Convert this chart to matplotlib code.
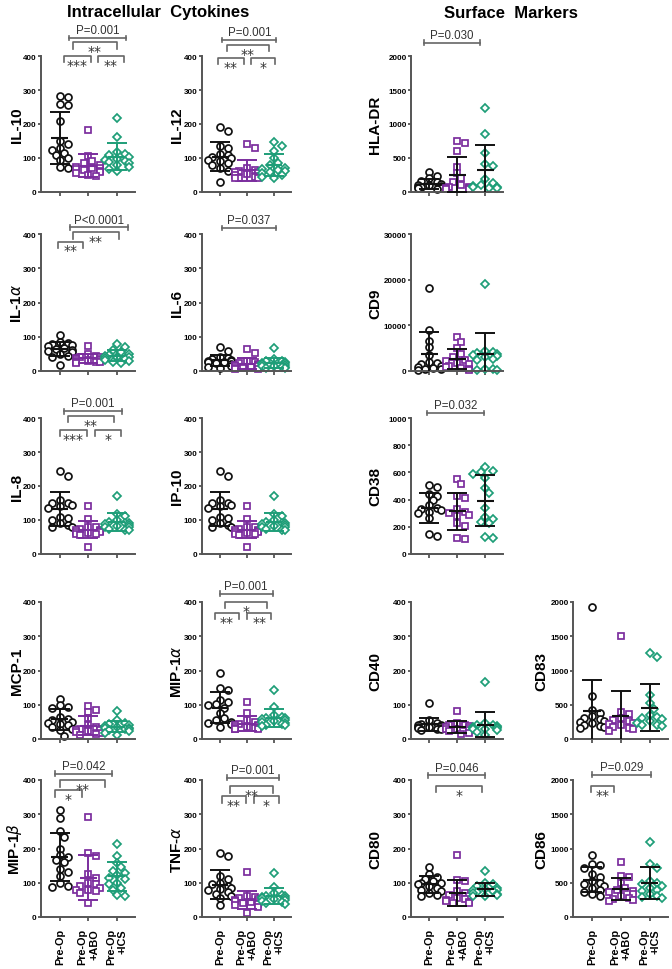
import numpy as np
import matplotlib
matplotlib.use("Agg")
import matplotlib.pyplot as plt
from matplotlib.transforms import blended_transform_factory

plt.rcParams['font.family'] = ['Liberation Sans', 'DejaVu Sans']
plt.rcParams['mathtext.fontset'] = 'dejavusans'

# ---------------- data ----------------
groups = ["Pre-Op", "Pre-Op\n+ABO", "Pre-Op\n+ICS"]
colors = ["#111111", "#7B2D9E", "#1E9E78"]
markers = ["o", "s", "D"]

il10 = [[282, 278, 260, 255, 210, 150, 140, 130, 125, 115, 110, 100, 95, 75, 70],
        [182, 105, 90, 85, 80, 75, 72, 70, 68, 65, 62, 58, 55, 50, 48],
        [217, 162, 118, 112, 108, 102, 98, 95, 92, 88, 85, 80, 75, 68, 62]]
il12 = [[190, 180, 135, 128, 112, 108, 103, 100, 95, 90, 85, 78, 70, 62, 28],
        [140, 128, 70, 65, 62, 60, 58, 55, 52, 50, 48, 45, 42, 40, 40],
        [148, 135, 120, 100, 85, 78, 72, 68, 65, 62, 58, 55, 50, 45, 42]]
il1a = [[105, 85, 82, 78, 75, 72, 68, 65, 60, 58, 55, 50, 45, 40, 18],
        [72, 50, 45, 42, 40, 38, 36, 35, 33, 30, 28, 27, 25, 25, 24],
        [78, 70, 62, 55, 50, 48, 45, 42, 40, 38, 35, 32, 30, 25, 22]]
il6 = [[70, 58, 42, 38, 35, 32, 30, 28, 27, 25, 22, 20, 15, 12, 8],
       [63, 52, 28, 25, 22, 20, 18, 17, 15, 14, 12, 10, 8, 6, 5],
       [66, 35, 30, 28, 25, 23, 22, 20, 18, 16, 15, 13, 12, 10, 8]]
il8 = [[243, 230, 160, 150, 150, 145, 140, 135, 110, 105, 100, 90, 85, 80, 78],
       [140, 103, 80, 78, 75, 72, 70, 68, 66, 65, 62, 60, 58, 55, 20],
       [172, 118, 112, 100, 95, 92, 90, 88, 85, 82, 80, 78, 75, 72, 70]]
ip10 = [[243, 230, 160, 150, 150, 145, 140, 135, 110, 105, 100, 90, 85, 80, 78],
        [140, 103, 80, 78, 75, 72, 70, 68, 66, 65, 62, 60, 58, 55, 20],
        [172, 118, 112, 100, 95, 92, 90, 88, 85, 82, 80, 78, 75, 72, 70]]
mcp1 = [[118, 98, 92, 90, 65, 58, 55, 50, 48, 45, 40, 35, 30, 25, 8],
        [97, 85, 78, 60, 40, 35, 30, 28, 26, 25, 22, 20, 18, 15, 12],
        [81, 55, 48, 45, 40, 38, 35, 33, 32, 30, 28, 25, 22, 18, 12]]
mip1a = [[193, 150, 142, 115, 108, 102, 98, 90, 75, 60, 55, 50, 48, 45, 35],
         [108, 75, 55, 50, 45, 42, 40, 38, 36, 35, 33, 32, 30, 30, 28],
         [143, 92, 70, 65, 62, 60, 58, 55, 52, 50, 48, 45, 42, 40, 38]]
mip1b = [[312, 288, 250, 235, 200, 180, 175, 165, 160, 140, 130, 120, 100, 90, 88],
         [292, 188, 178, 125, 115, 100, 95, 90, 85, 80, 78, 75, 70, 42],
         [212, 178, 158, 145, 135, 128, 122, 115, 110, 100, 95, 85, 80, 65, 60]]
tnfa = [[188, 178, 120, 110, 100, 95, 90, 85, 82, 78, 72, 68, 62, 55, 35],
        [130, 62, 58, 55, 52, 50, 48, 46, 45, 42, 40, 38, 35, 30, 12],
        [128, 88, 70, 65, 62, 60, 58, 56, 55, 52, 50, 48, 45, 42, 38]]
hladr = [[300, 240, 200, 160, 140, 120, 110, 100, 90, 80, 75, 70, 60, 55, 50],
         [755, 720, 600, 370, 280, 200, 150, 100, 80, 70, 60, 55, 50, 45],
         [1235, 855, 570, 405, 380, 185, 135, 100, 90, 80, 70, 60, 55]]
cd9 = [[18100, 9000, 6600, 5200, 3400, 2000, 1800, 1500, 1200, 900, 700, 500, 400, 300],
       [7400, 6300, 5000, 3800, 3000, 2500, 2200, 1800, 1500, 1200, 900, 600, 400, 300],
       [19100, 4400, 4100, 3900, 3700, 3500, 3200, 3000, 2600, 2300, 500, 400, 300, 250]]
cd38 = [[505, 490, 438, 430, 395, 360, 340, 330, 320, 310, 300, 265, 150, 135],
        [550, 515, 430, 410, 330, 310, 300, 290, 280, 230, 205, 120, 112],
        [637, 612, 600, 585, 560, 485, 450, 340, 270, 260, 235, 225, 125, 118]]
cd40 = [[104, 55, 48, 45, 42, 40, 38, 36, 35, 33, 32, 30, 28, 27],
        [82, 48, 42, 40, 38, 35, 32, 30, 28, 25, 22, 18, 15],
        [166, 48, 42, 40, 38, 36, 35, 33, 32, 30, 28, 25, 20, 12]]
cd83 = [[1920, 625, 430, 380, 330, 300, 290, 270, 250, 230, 210, 190, 170, 160],
        [1500, 390, 360, 300, 280, 260, 240, 220, 200, 180, 160, 140, 120],
        [1250, 1195, 640, 530, 445, 350, 320, 300, 290, 260, 240, 210, 200, 190]]
cd80 = [[146, 125, 118, 112, 105, 100, 98, 95, 90, 85, 80, 75, 70, 65, 62],
        [180, 108, 105, 75, 70, 65, 60, 55, 52, 50, 48, 45, 42, 40],
        [135, 100, 95, 90, 85, 82, 80, 78, 75, 72, 70, 68, 65, 62, 60]]
cd86 = [[905, 780, 760, 720, 630, 590, 520, 500, 480, 450, 420, 400, 360, 330, 300],
        [810, 600, 590, 500, 420, 400, 380, 360, 340, 300, 280, 260, 250, 240],
        [1100, 780, 720, 520, 500, 480, 450, 420, 400, 380, 330, 310, 290, 280]]

# ---------------- layout ----------------
W, H = 672, 970
rows_px = [(57, 193), (235, 372), (419, 555), (603, 740), (781, 918)]
cols_px = [(41, 135), (202, 291), (411, 503), (573, 668)]
label_x_px = [24, 184, 382, 548]   # right (descent) edge of the rotated y labels

# annotation brackets: (x1, x2, y in axes fraction, text, kind)
panels = [
    ("IL-10", il10, 400, 100, 0, 0, False,
     [(0.32, 2.32, 1.132, "P=0.001", "p"), (0.45, 2.0, 1.100, "**", "s"),
      (0.14, 1.08, 1.0, "***", "s"), (1.33, 2.25, 1.0, "**", "s")]),
    ("IL-12", il12, 400, 100, 0, 1, False,
     [(0.1, 2.1, 1.118, "P=0.001", "p"), (0.25, 1.82, 1.081, "**", "s"),
      (-0.07, 0.88, 0.985, "**", "s"), (1.16, 2.04, 0.985, "*", "s")]),
    ("IL-1$\\alpha$", il1a, 400, 100, 1, 0, False,
     [(0.35, 2.38, 1.049, "P<0.0001", "p"), (0.46, 2.07, 1.012, "**", "s"),
      (-0.07, 0.82, 0.944, "**", "s")]),
    ("IL-6", il6, 400, 100, 1, 1, False,
     [(0.07, 2.07, 1.044, "P=0.037", "p")]),
    ("IL-8", il8, 400, 100, 2, 0, False,
     [(0.14, 2.18, 1.051, "P=0.001", "p"), (0.28, 1.89, 1.015, "**", "s"),
      (0.0, 0.95, 0.91, "***", "s"), (1.23, 2.14, 0.91, "*", "s")]),
    ("IP-10", ip10, 400, 100, 2, 1, False, []),
    ("MCP-1", mcp1, 400, 100, 3, 0, False, []),
    ("MIP-1$\\alpha$", mip1a, 400, 100, 3, 1, False,
     [(0.0, 1.96, 1.061, "P=0.001", "p"), (0.18, 1.75, 1.0, "*", "s"),
      (-0.18, 0.7, 0.919, "**", "s"), (1.02, 1.9, 0.919, "**", "s")]),
    ("MIP-1$\\beta$", mip1b, 400, 100, 4, 0, False,
     [(-0.18, 1.83, 1.046, "P=0.042", "p"), (0.0, 1.6, 0.997, "**", "s"),
      (-0.18, 0.77, 0.924, "*", "s")]),
    ("TNF-$\\alpha$", tnfa, 400, 100, 4, 1, False,
     [(0.25, 2.2, 1.017, "P=0.001", "p"), (0.39, 1.96, 0.953, "**", "s"),
      (0.07, 0.98, 0.88, "**", "s"), (1.26, 2.18, 0.88, "*", "s")]),
    ("HLA-DR", hladr, 2000, 500, 0, 2, True,
     [(-0.21, 1.82, 1.096, "P=0.030", "p")]),
    ("CD9", cd9, 30000, 10000, 1, 2, True, []),
    ("CD38", cd38, 1000, 200, 2, 2, True,
     [(-0.1, 1.95, 1.037, "P=0.032", "p")]),
    ("CD40", cd40, 400, 100, 3, 2, True, []),
    ("CD83", cd83, 2000, 500, 3, 3, True, []),
    ("CD80", cd80, 400, 100, 4, 2, True,
     [(-0.04, 2.0, 1.034, "P=0.046", "p"), (0.25, 1.88, 0.956, "*", "s")]),
    ("CD86", cd86, 2000, 500, 4, 3, True,
     [(0.0, 2.05, 1.04, "P=0.029", "p"), (-0.04, 0.78, 0.956, "**", "s")]),
]

XL = (-0.66, 2.64)


def swarm(vals, ymax, px_x, px_y, diam=6.6):
    vals = np.asarray(vals, float)
    order = np.argsort(vals)[::-1]
    placed = []
    offs = np.zeros(len(vals))
    step = diam * 0.6
    for i in order:
        y = vals[i] / ymax * px_y
        cand = 0.0
        for k in range(0, 30):
            cand = 0.0 if k == 0 else ((k + 1) // 2) * (1 if k % 2 else -1) * step
            if all((cand - px) ** 2 + (y - py) ** 2 >= (diam * 0.9) ** 2 for px, py in placed):
                break
        placed.append((cand, y))
        offs[i] = cand / px_x
    return np.clip(offs, -0.42, 0.42)


fig = plt.figure(figsize=(W / 100, H / 100), dpi=100)

fig.text(158 / W, 1 - 13 / H, "Intracellular  Cytokines", ha='center', va='center',
         fontsize=12, fontweight='bold')
fig.text(511 / W, 1 - 13 / H, "Surface  Markers", ha='center', va='center',
         fontsize=12, fontweight='bold')

axis_col = "#555555"
br_col = "#666666"

for name, data, ymax, ystep, r, c, surf, brackets in panels:
    top, bot = rows_px[r]
    left, right = cols_px[c]
    ax = fig.add_axes([left / W, 1 - bot / H, (right - left) / W, (bot - top) / H])
    ax.set_xlim(*XL)
    ax.set_ylim(0, ymax)
    px_x = (right - left) / (XL[1] - XL[0])
    px_y = bot - top
    for g in range(3):
        vals = np.asarray(data[g], float)
        offs = swarm(vals, ymax, px_x, px_y)
        ax.plot(g + offs, vals, linestyle='none', marker=markers[g],
                markersize=5.0 if markers[g] != 'D' else 4.2,
                markerfacecolor='white', markeredgecolor=colors[g],
                markeredgewidth=1.25, zorder=2, clip_on=False)
        m = vals.mean()
        sd = vals.std(ddof=1)
        ec = "#111111" if surf else colors[g]
        ax.errorbar([g], [m], yerr=[[sd], [sd]], fmt='none', ecolor=ec,
                    elinewidth=1.4, capsize=7.5, capthick=1.4, zorder=3)
        ax.hlines(m, g - 0.3, g + 0.3, color=ec, lw=1.5, zorder=3)

    for side in ['top', 'right']:
        ax.spines[side].set_visible(False)
    for side in ['left', 'bottom']:
        ax.spines[side].set_color(axis_col)
        ax.spines[side].set_linewidth(1.4)
    ax.set_yticks(np.arange(0, ymax + 1, ystep))
    ax.set_yticklabels([f"{int(v)}" for v in np.arange(0, ymax + 1, ystep)],
                       fontsize=5.8, fontweight='bold')
    ax.set_xticks([0, 1, 2])
    if r == 4:
        ax.set_xticklabels(groups, rotation=90, fontsize=7.8, fontweight='bold',
                           ha='center', va='top', multialignment='right')
    else:
        ax.set_xticklabels([])
    ax.tick_params(axis='y', colors=axis_col, length=2.4, width=1.3,
                   labelcolor='black', pad=0.8)
    ax.tick_params(axis='x', colors=axis_col, length=3.0, width=1.3,
                   labelcolor='black', pad=5)
    ax.set_ylabel(name, fontsize=11, fontweight='bold')
    ax.yaxis.set_label_coords((label_x_px[c] - left) / (right - left), 0.5)

    trans = blended_transform_factory(ax.transData, ax.transAxes)
    for x1, x2, yb, txt, kind in brackets:
        if kind == 'p':
            ax.plot([x1, x2], [yb, yb], color=br_col, lw=1.2, transform=trans, clip_on=False)
            for xx in (x1, x2):
                ax.plot([xx, xx], [yb - 0.018, yb + 0.018], color=br_col, lw=1.2,
                        transform=trans, clip_on=False)
            ax.text((x1 + x2) / 2, yb + 0.012, txt, transform=trans, ha='center',
                    va='bottom', fontsize=8.3, color='#333333')
        else:
            ax.plot([x1, x1, x2, x2], [yb - 0.045, yb, yb, yb - 0.045], color=br_col,
                    lw=1.2, transform=trans, clip_on=False)
            ax.text((x1 + x2) / 2, yb - 0.012, txt, transform=trans, ha='center',
                    va='top', fontsize=10, color='#333333', fontfamily='DejaVu Sans')

fig.savefig("out.png", dpi=100)
